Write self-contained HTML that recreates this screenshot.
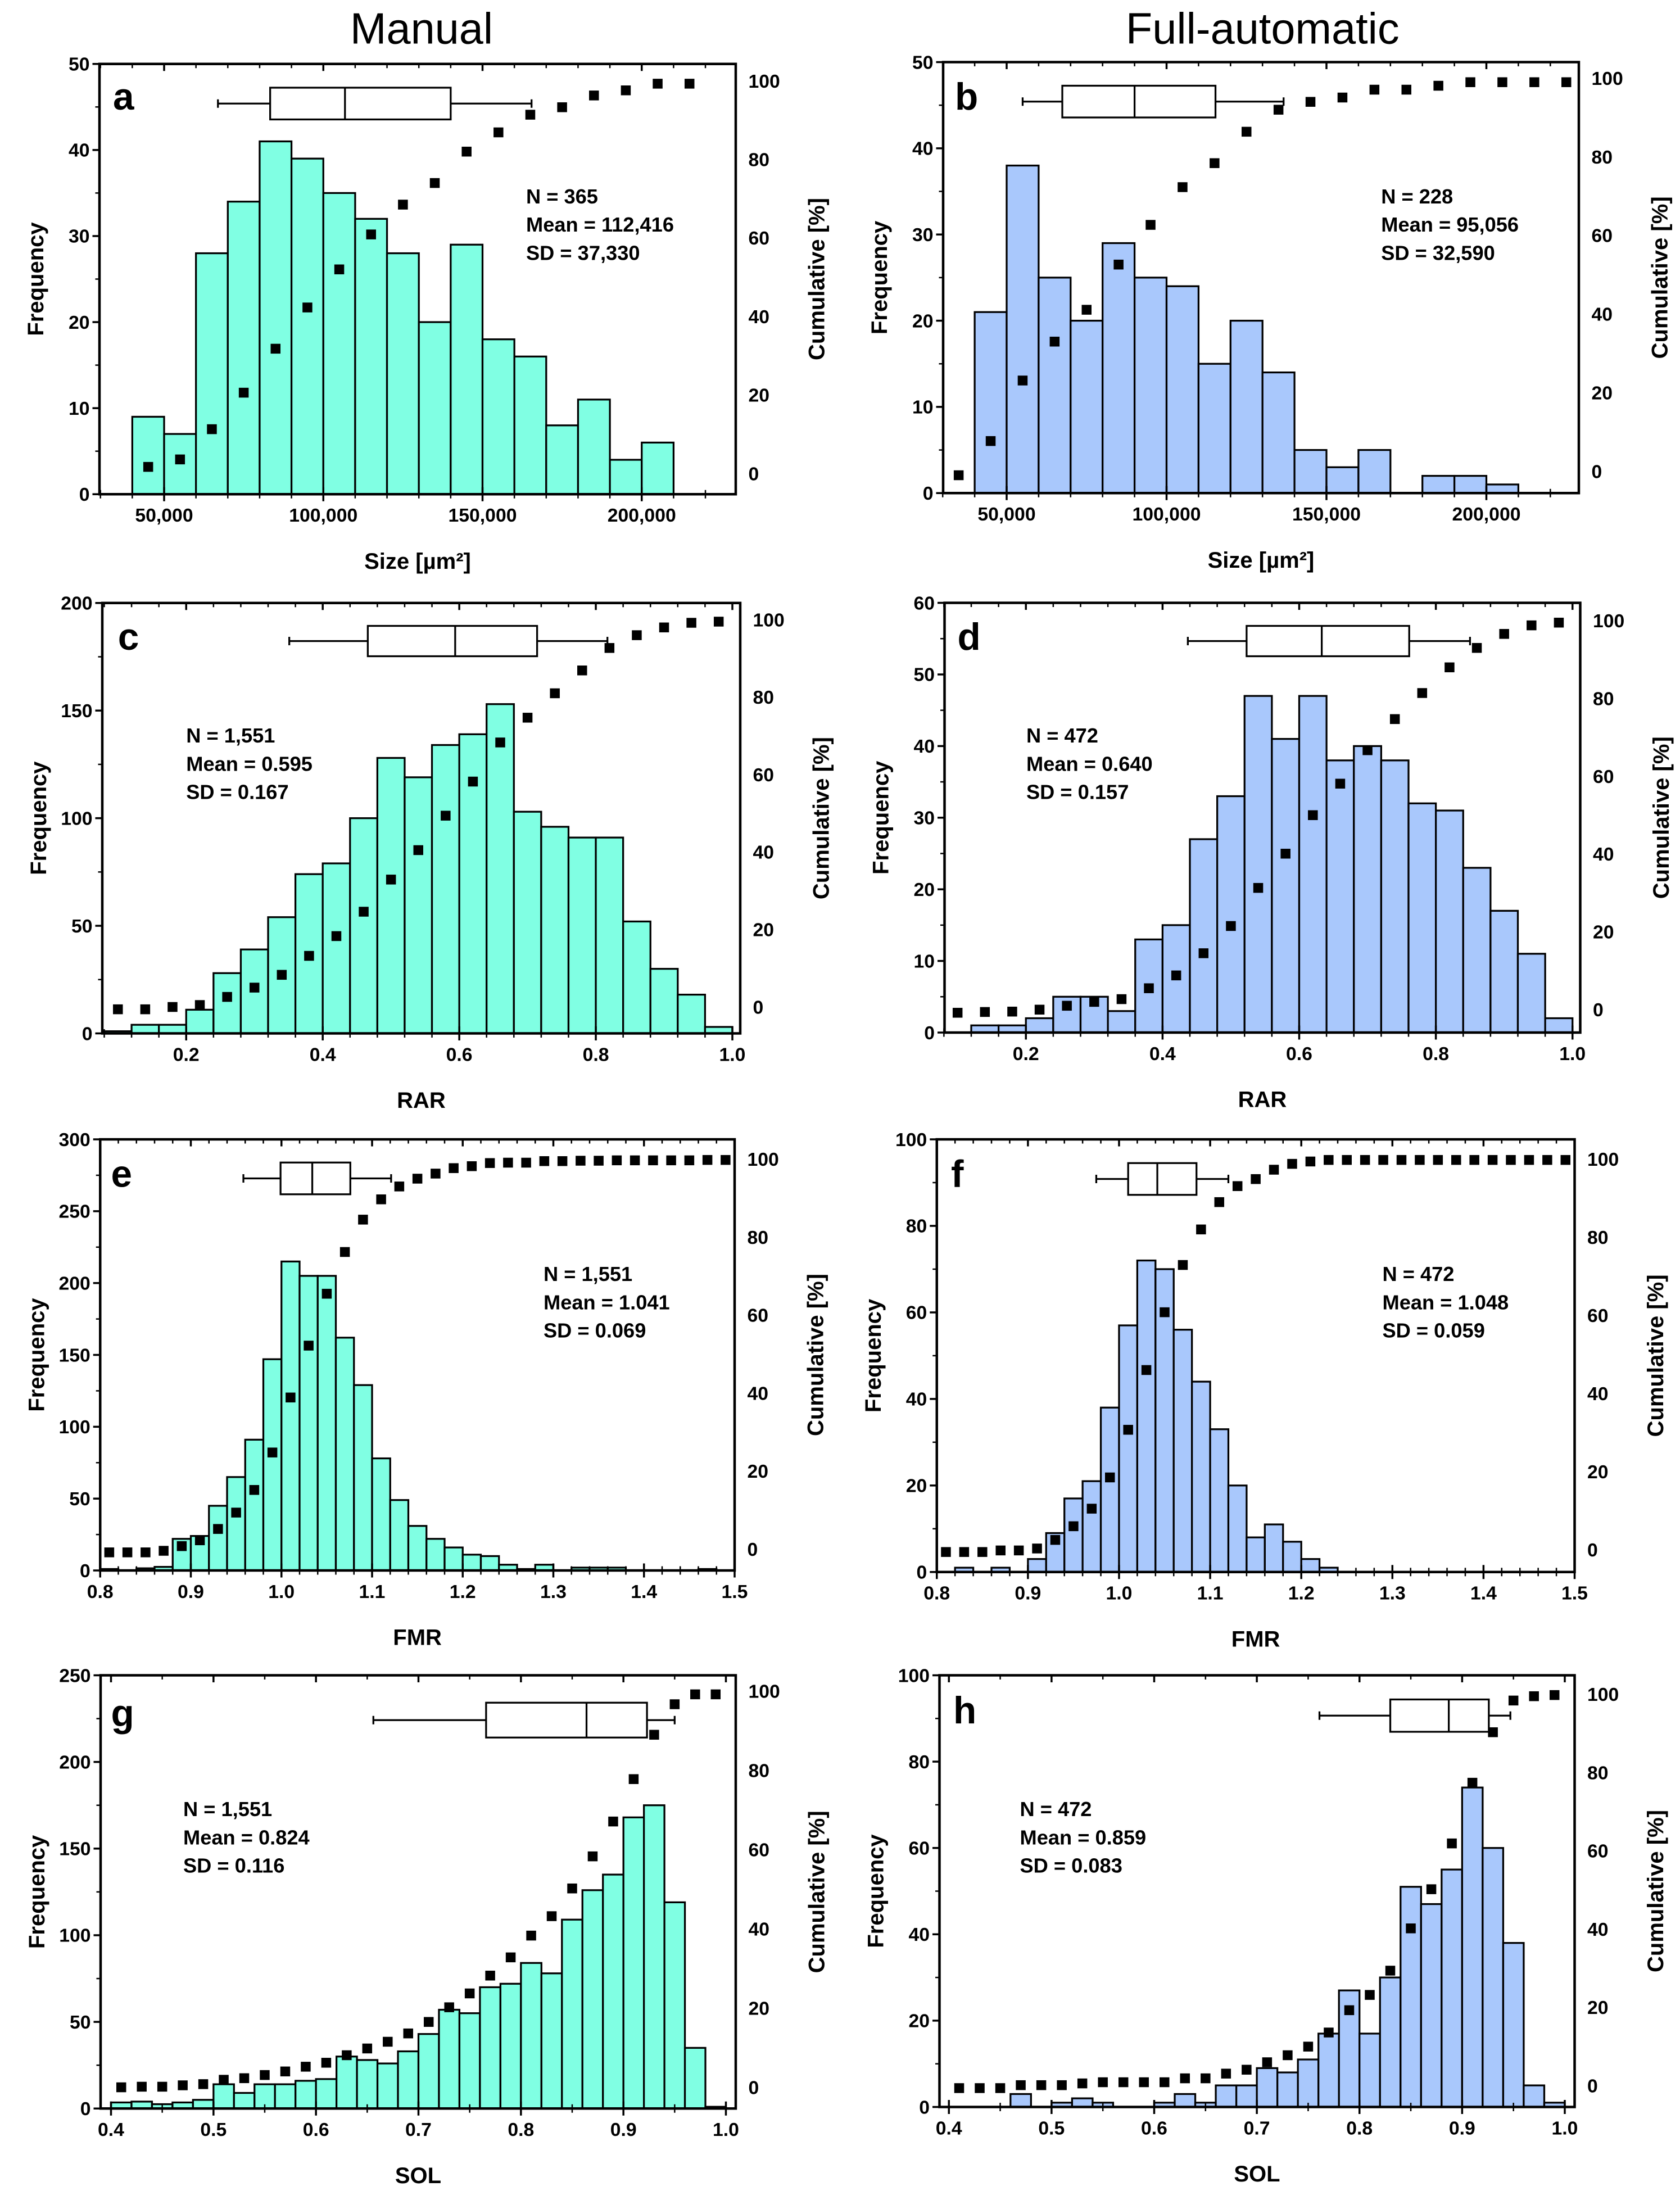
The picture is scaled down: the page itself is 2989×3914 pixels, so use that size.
<!DOCTYPE html>
<html>
<head>
<meta charset="utf-8">
<style>
html,body{margin:0;padding:0;background:#fff;}
svg{display:block;}
text{font-family:"Liberation Sans",Arial,sans-serif;}
</style>
</head>
<body>
<svg id="fig" xmlns="http://www.w3.org/2000/svg" width="2989" height="3914" viewBox="0 0 1195.6 1565.6">
<rect x="0" y="0" width="1195.6" height="1565.6" fill="#fff"/>
<text x="300" y="31" font-size="31" text-anchor="middle">Manual</text>
<text x="898.5" y="31" font-size="31" text-anchor="middle">Full-automatic</text>
</svg>
<script>
// ===== Panel a (Manual, Size) =====
const aBins = [40000,50000,60000,70000,80000,90000,100000,110000,120000,130000,140000,150000,160000,170000,180000,190000,200000];
const aBinWidth = 10000;
const aFreq = [9,7,28,34,41,39,35,32,28,20,29,18,16,8,11,4,6];
const aCumX = [45000,55000,65000,75000,85000,95000,105000,115000,125000,135000,145000,155000,165000,175000,185000,195000,205000,215000];
const aCum = [1.7,3.6,11.3,20.6,31.8,42.3,52,60.9,68.5,74,82,86.9,91.4,93.3,96.3,97.6,99.3,99.3];
const aBox = [66900,83300,106800,140000,165400];
const aXTicks = [50000,100000,150000,200000];
const aXTickLabels = ["50,000","100,000","150,000","200,000"];
const aYTicks = [0,10,20,30,40,50];
const aStats = ["N = 365","Mean = 112,416","SD = 37,330"];

// ===== Panel b (Full-automatic, Size) =====
const bBins = [40000,50000,60000,70000,80000,90000,100000,110000,120000,130000,140000,150000,160000,170000,180000,190000,200000];
const bBinWidth = 10000;
const bFreq = [21,38,25,20,29,25,24,15,20,14,5,3,5,0,2,2,1];
const bCumX = [35000,45000,55000,65000,75000,85000,95000,105000,115000,125000,135000,145000,155000,165000,175000,185000,195000,205000,215000,225000];
const bCum = [-1,7.7,23.1,33,41.1,52.6,62.7,72.3,78.4,86.4,92,94,95.1,97.1,97.1,98.1,99,99,99,99];
const bBox = [55000,67400,90000,115300,136600];
const bXTicks = [50000,100000,150000,200000];
const bXTickLabels = ["50,000","100,000","150,000","200,000"];
const bYTicks = [0,10,20,30,40,50];
const bStats = ["N = 228","Mean = 95,056","SD = 32,590"];

// ===== Panel c (Manual, RAR) =====
const cBins = [0.08,0.12,0.16,0.20,0.24,0.28,0.32,0.36,0.40,0.44,0.48,0.52,0.56,0.60,0.64,0.68,0.72,0.76,0.80,0.84,0.88,0.92,0.96];
const cBinWidth = 0.04;
const cFreq = [1,4,4,11,28,39,54,74,79,100,128,119,134,139,153,103,96,91,91,52,30,18,3];
const cCumX = [0.10,0.14,0.18,0.22,0.26,0.30,0.34,0.38,0.42,0.46,0.50,0.54,0.58,0.62,0.66,0.70,0.74,0.78,0.82,0.86,0.90,0.94,0.98];
const cCum = [-0.6,-0.6,0,0.5,2.6,5,8.3,13.2,18.3,24.6,32.9,40.5,49.4,58.2,68.3,74.7,81,86.9,92.7,96,98,99.2,99.5];
const cBox = [0.351,0.466,0.594,0.714,0.817];
const cXTicks = [0.2,0.4,0.6,0.8,1.0];
const cXTickLabels = ["0.2","0.4","0.6","0.8","1.0"];
const cYTicks = [0,50,100,150,200];
const cStats = ["N = 1,551","Mean = 0.595","SD = 0.167"];

// ===== Panel d (Full-automatic, RAR) =====
const dBins = [0.12,0.16,0.20,0.24,0.28,0.32,0.36,0.40,0.44,0.48,0.52,0.56,0.60,0.64,0.68,0.72,0.76,0.80,0.84,0.88,0.92,0.96];
const dBinWidth = 0.04;
const dFreq = [1,1,2,5,5,3,13,15,27,33,47,41,47,38,40,38,32,31,23,17,11,2];
const dCumX = [0.10,0.14,0.18,0.22,0.26,0.30,0.34,0.38,0.42,0.46,0.50,0.54,0.58,0.62,0.66,0.70,0.74,0.78,0.82,0.86,0.90,0.94,0.98];
const dCum = [-0.8,-0.6,-0.5,0,1,2,2.7,5.5,8.8,14.5,21.5,31.3,40.1,50,58.1,66.7,74.7,81.4,88,93,96.6,98.8,99.5];
const dBox = [0.437,0.523,0.633,0.761,0.850];
const dXTicks = [0.2,0.4,0.6,0.8,1.0];
const dXTickLabels = ["0.2","0.4","0.6","0.8","1.0"];
const dYTicks = [0,10,20,30,40,50,60];
const dStats = ["N = 472","Mean = 0.640","SD = 0.157"];

// ===== Panel e (Manual, FMR) =====
const eBins = [0.80,0.82,0.84,0.86,0.88,0.90,0.92,0.94,0.96,0.98,1.00,1.02,1.04,1.06,1.08,1.10,1.12,1.14,1.16,1.18,1.20,1.22,1.24,1.26,1.28,1.30,1.32,1.34,1.36,1.38,1.40,1.42,1.44,1.46,1.48];
const eBinWidth = 0.02;
const eFreq = [1,0,1.5,2.5,22,24,45,65,91,147,215,205,205,162,129,78,49,31,22,16,11,10,4,1,4,0,2,2,2,0,0,0,0,1,0];
const eCumX = [0.81,0.83,0.85,0.87,0.89,0.91,0.93,0.95,0.97,0.99,1.01,1.03,1.05,1.07,1.09,1.11,1.13,1.15,1.17,1.19,1.21,1.23,1.25,1.27,1.29,1.31,1.33,1.35,1.37,1.39,1.41,1.43,1.45,1.47,1.49];
const eCum = [-0.8,-0.8,-0.8,-0.4,0.8,2.3,5.2,9.4,15.2,24.8,38.9,52.2,65.5,76.2,84.5,89.7,93,95,96.3,97.7,98.2,99,99.1,99.1,99.5,99.5,99.6,99.6,99.7,99.7,99.7,99.7,99.7,99.8,99.8];
const eBox = [0.958,0.999,1.034,1.076,1.121];
const eXTicks = [0.8,0.9,1.0,1.1,1.2,1.3,1.4,1.5];
const eXTickLabels = ["0.8","0.9","1.0","1.1","1.2","1.3","1.4","1.5"];
const eYTicks = [0,50,100,150,200,250,300];
const eStats = ["N = 1,551","Mean = 1.041","SD = 0.069"];

// ===== Panel f (Full-automatic, FMR) =====
const fBins = [0.80,0.82,0.84,0.86,0.88,0.90,0.92,0.94,0.96,0.98,1.00,1.02,1.04,1.06,1.08,1.10,1.12,1.14,1.16,1.18,1.20,1.22,1.24,1.26,1.28,1.30,1.32,1.34,1.36,1.38,1.40,1.42,1.44,1.46,1.48];
const fBinWidth = 0.02;
const fFreq = [0,1,0,1,0,3,9,17,21,38,57,72,70,56,44,33,20,8,11,7,3,1,0,0,0,0,0,0,0,0,0,0,0,0,0];
const fCumX = [0.81,0.83,0.85,0.87,0.89,0.91,0.93,0.95,0.97,0.99,1.01,1.03,1.05,1.07,1.09,1.11,1.13,1.15,1.17,1.19,1.21,1.23,1.25,1.27,1.29,1.31,1.33,1.35,1.37,1.39,1.41,1.43,1.45,1.47,1.49];
const fCum = [-0.6,-0.6,-0.6,-0.2,-0.2,0.3,2.5,6,10.5,18.5,30.7,46,60.8,72.9,82,89,93.1,94.9,97.3,98.8,99.4,99.8,99.8,99.8,99.8,99.8,99.8,99.8,99.8,99.8,99.8,99.8,99.8,99.8,99.8];
const fBox = [0.975,1.010,1.042,1.085,1.120];
const fXTicks = [0.8,0.9,1.0,1.1,1.2,1.3,1.4,1.5];
const fXTickLabels = ["0.8","0.9","1.0","1.1","1.2","1.3","1.4","1.5"];
const fYTicks = [0,20,40,60,80,100];
const fStats = ["N = 472","Mean = 1.048","SD = 0.059"];

// ===== Panel g (Manual, SOL) =====
const gBins = [0.40,0.42,0.44,0.46,0.48,0.50,0.52,0.54,0.56,0.58,0.60,0.62,0.64,0.66,0.68,0.70,0.72,0.74,0.76,0.78,0.80,0.82,0.84,0.86,0.88,0.90,0.92,0.94,0.96,0.98];
const gBinWidth = 0.02;
const gFreq = [3.5,4,2.5,3.5,5,14,9,14,14,16,17,30,28,26,33,43,57,55,70,72,84,78,109,126,135,168,175,119,35,1];
const gCumX = [0.41,0.43,0.45,0.47,0.49,0.51,0.53,0.55,0.57,0.59,0.61,0.63,0.65,0.67,0.69,0.71,0.73,0.75,0.77,0.79,0.81,0.83,0.85,0.87,0.89,0.91,0.93,0.95,0.97,0.99];
const gCum = [0,0.15,0.15,0.5,0.8,1.9,2.3,3.1,4,5.2,6.2,8.1,9.8,11.5,13.6,16.5,20.2,23.7,28.2,32.8,38.3,43.2,50.2,58.3,67.1,77.8,89,96.7,99.2,99.2];
const gBox = [0.656,0.766,0.864,0.923,0.950];
const gXTicks = [0.4,0.5,0.6,0.7,0.8,0.9,1.0];
const gXTickLabels = ["0.4","0.5","0.6","0.7","0.8","0.9","1.0"];
const gYTicks = [0,50,100,150,200,250];
const gStats = ["N = 1,551","Mean = 0.824","SD = 0.116"];

// ===== Panel h (Full-automatic, SOL) =====
const hBins = [0.40,0.42,0.44,0.46,0.48,0.50,0.52,0.54,0.56,0.58,0.60,0.62,0.64,0.66,0.68,0.70,0.72,0.74,0.76,0.78,0.80,0.82,0.84,0.86,0.88,0.90,0.92,0.94,0.96,0.98];
const hBinWidth = 0.02;
const hFreq = [0,0,0,3,0,1,2,1,0,0,1,3,1,5,5,9,8,11,17,27,17,30,51,47,55,74,60,38,5,1];
const hCumX = [0.41,0.43,0.45,0.47,0.49,0.51,0.53,0.55,0.57,0.59,0.61,0.63,0.65,0.67,0.69,0.71,0.73,0.75,0.77,0.79,0.81,0.83,0.85,0.87,0.89,0.91,0.93,0.95,0.97,0.99];
const hCum = [-0.6,-0.6,-0.6,0.15,0.15,0.15,0.6,0.9,0.9,0.9,0.9,1.9,1.9,3.1,4.1,6,7.8,10,13.6,19.3,23.2,29.4,40.2,50.2,61.9,77.4,90.3,98.4,99.5,99.8];
const hBox = [0.761,0.830,0.887,0.926,0.947];
const hXTicks = [0.4,0.5,0.6,0.7,0.8,0.9,1.0];
const hXTickLabels = ["0.4","0.5","0.6","0.7","0.8","0.9","1.0"];
const hYTicks = [0,20,40,60,80,100];
const hStats = ["N = 472","Mean = 0.859","SD = 0.083"];

const cumTicks = [0,20,40,60,80,100];

const NS = "http://www.w3.org/2000/svg";
const svg = document.getElementById("fig");
const TEAL = "#80ffe3", BLUE = "#a9c8fc";

function mk(tag, attrs, parent) {
  const el = document.createElementNS(NS, tag);
  for (const k in attrs) el.setAttribute(k, attrs[k]);
  (parent || svg).appendChild(el);
  return el;
}

function drawPanel(p) {
  const g = mk("g", {});
  
  
  const sx = v => p.px0 + (v - p.v0) * (p.px1 - p.px0) / (p.v1 - p.v0);
  const syL = v => p.B - v * (p.B - p.T) / p.yMax;
  const syR = v => p.r0 + v * (p.r100 - p.r0) / 100;

  const frame = mk("rect", {x:p.L, y:p.T, width:p.R-p.L, height:p.B-p.T, fill:"#fff", stroke:"none"}, g);
  
  

  // bars
  for (let i = 0; i < p.bins.length; i++) {
    if (p.freq[i] <= 0) continue;
    const x0 = sx(p.bins[i]), x1 = sx(p.bins[i] + p.bw);
    const y = syL(p.freq[i]);
    const bar = mk("rect", {x:x0, y:y, width:x1-x0, height:p.B-y, fill:p.color, stroke:"#000", "stroke-width":1.3}, g);
    
    
  }
  // cumulative markers
  for (let i = 0; i < p.cumX.length; i++) {
    const cx = sx(p.cumX[i]), cy = syR(p.cum[i]);
    const m = mk("rect", {x:cx-3.5, y:cy-3.5, width:7, height:7, fill:"#000"}, g);
    
    
  }
  // box plot
  const bg = mk("g", {}, g);
  
  
  const by = p.boxY, bh = p.boxH;
  const bx = p.box.map(sx);
  mk("line", {x1:bx[0], y1:by, x2:bx[1], y2:by, stroke:"#000", "stroke-width":1.3}, bg);
  mk("line", {x1:bx[3], y1:by, x2:bx[4], y2:by, stroke:"#000", "stroke-width":1.3}, bg);
  mk("line", {x1:bx[0], y1:by-3, x2:bx[0], y2:by+3, stroke:"#000", "stroke-width":1.3}, bg);
  mk("line", {x1:bx[4], y1:by-3, x2:bx[4], y2:by+3, stroke:"#000", "stroke-width":1.3}, bg);
  mk("rect", {x:bx[1], y:by-bh, width:bx[3]-bx[1], height:2*bh, fill:"#fff", stroke:"#000", "stroke-width":1.3}, bg);
  mk("line", {x1:bx[2], y1:by-bh, x2:bx[2], y2:by+bh, stroke:"#000", "stroke-width":1.3}, bg);

  // frame outline
  mk("rect", {x:p.L, y:p.T, width:p.R-p.L, height:p.B-p.T, fill:"none", stroke:"#000", "stroke-width":1.8}, g);

  // x minor ticks
  for (let v = p.xMinorStart; v <= p.v1Tick + 1e-9; v += p.xMinor) {
    const x = sx(v);
    if (x < p.L - 0.5 || x > p.R + 0.5) continue;
    mk("line", {x1:x, y1:p.B-3, x2:x, y2:p.B+3, stroke:"#000", "stroke-width":1}, g);
    mk("line", {x1:x, y1:p.T, x2:x, y2:p.T+3, stroke:"#000", "stroke-width":1}, g);
  }
  // x major ticks + labels
  for (let i = 0; i < p.xTicks.length; i++) {
    const x = sx(p.xTicks[i]);
    mk("line", {x1:x, y1:p.B-5, x2:x, y2:p.B+5, stroke:"#000", "stroke-width":1.4}, g);
    mk("line", {x1:x, y1:p.T, x2:x, y2:p.T+5, stroke:"#000", "stroke-width":1.4}, g);
    const t = mk("text", {x:x, y:p.B+19.5, "font-size":13.5, "font-weight":"bold", "text-anchor":"middle"}, g);
    t.textContent = p.xLabels[i];
    
    
  }
  // left ticks
  const step = p.yTicks[1] - p.yTicks[0];
  for (let i = 0; i < p.yTicks.length; i++) {
    const y = syL(p.yTicks[i]);
    mk("line", {x1:p.L-5, y1:y, x2:p.L, y2:y, stroke:"#000", "stroke-width":1.4}, g);
    if (i < p.yTicks.length - 1) {
      const ym = syL(p.yTicks[i] + step/2);
      mk("line", {x1:p.L-3, y1:ym, x2:p.L, y2:ym, stroke:"#000", "stroke-width":1}, g);
    }
    const t = mk("text", {x:p.L-7, y:y+4.7, "font-size":13.5, "font-weight":"bold", "text-anchor":"end"}, g);
    t.textContent = String(p.yTicks[i]);
    
    
  }
  // right ticks labels
  for (let i = 0; i < cumTicks.length; i++) {
    const y = syR(cumTicks[i]);
    const t = mk("text", {x:p.R+9, y:y+4.7, "font-size":13.5, "font-weight":"bold", "text-anchor":"start"}, g);
    t.textContent = String(cumTicks[i]);
    
    
  }
  // axis titles
  const ym = (p.T + p.B) / 2;
  const yt = mk("text", {x:0, y:0, "font-size":16, "font-weight":"bold", "text-anchor":"middle", transform:"translate(" + (p.L-40) + "," + ym + ") rotate(-90)"}, g);
  yt.textContent = "Frequency";
  
  
  const rt = mk("text", {x:0, y:0, "font-size":16, "font-weight":"bold", "text-anchor":"middle", transform:"translate(" + (p.R+63) + "," + ym + ") rotate(-90)"}, g);
  rt.textContent = "Cumulative [%]";
  
  
  const xt = mk("text", {x:(p.L+p.R)/2, y:p.B+53, "font-size":16, "font-weight":"bold", "text-anchor":"middle"}, g);
  xt.textContent = p.xTitle;
  
  
  // panel letter
  const lt = mk("text", {x:p.letterX, y:p.letterY, "font-size":27, "font-weight":"bold"}, g);
  lt.textContent = p.id;
  
  
  // stats
  for (let i = 0; i < p.stats.length; i++) {
    const st = mk("text", {x:p.statX, y:p.statY + i*20.1, "font-size":14.5, "font-weight":"bold"}, g);
    st.textContent = p.stats[i];
    
    
  }
}

const panels = [
  {id:"a", L:70.8, R:523.6, T:45.5, B:351.7, v0:50000, v1:100000, px0:116.8, px1:230.1, yMax:50, r0:337, r100:57.6,
   bins:aBins, bw:aBinWidth, freq:aFreq, cumX:aCumX, cum:aCum, box:aBox, boxY:73.7, boxH:11.3,
   xTicks:aXTicks, xLabels:aXTickLabels, yTicks:aYTicks, xMinorStart:30000, xMinor:10000, v1Tick:230000,
   color:TEAL, xTitle:"Size [\u00b5m\u00b2]", letterX:80.4, letterY:78, stats:aStats, statX:374.4, statY:144.7},
  {id:"b", L:671.2, R:1123.6, T:44.2, B:350.9, v0:50000, v1:100000, px0:716.4, px1:830.2, yMax:50, r0:335.4, r100:55.7,
   bins:bBins, bw:bBinWidth, freq:bFreq, cumX:bCumX, cum:bCum, box:bBox, boxY:72.3, boxH:11.3,
   xTicks:bXTicks, xLabels:bXTickLabels, yTicks:bYTicks, xMinorStart:30000, xMinor:10000, v1Tick:230000,
   color:BLUE, xTitle:"Size [\u00b5m\u00b2]", letterX:679.6, letterY:78, stats:bStats, statX:982.9, statY:144.7},
  {id:"c", L:72.8, R:526.8, T:429.1, B:735.4, v0:0.2, v1:1.0, px0:132.5, px1:521.2, yMax:200, r0:716.6, r100:441,
   bins:cBins, bw:cBinWidth, freq:cFreq, cumX:cCumX, cum:cCum, box:cBox, boxY:456.2, boxH:10.8,
   xTicks:cXTicks, xLabels:cXTickLabels, yTicks:cYTicks, xMinorStart:0.08, xMinor:0.04, v1Tick:1.0,
   color:TEAL, xTitle:"RAR", letterX:83.9, letterY:462.3, stats:cStats, statX:132.5, statY:528.4},
  {id:"d", L:672.2, R:1124.6, T:429, B:734.8, v0:0.2, v1:1.0, px0:730.1, px1:1119.1, yMax:60, r0:718.5, r100:441.7,
   bins:dBins, bw:dBinWidth, freq:dFreq, cumX:dCumX, cum:dCum, box:dBox, boxY:456.2, boxH:10.8,
   xTicks:dXTicks, xLabels:dXTickLabels, yTicks:dYTicks, xMinorStart:0.08, xMinor:0.04, v1Tick:1.0,
   color:BLUE, xTitle:"RAR", letterX:681.4, letterY:462.3, stats:dStats, statX:730.4, statY:528.4},
  {id:"e", L:71.3, R:522.8, T:810.8, B:1117.6, v0:0.8, v1:1.5, px0:71.3, px1:522.8, yMax:300, r0:1102.5, r100:824.9,
   bins:eBins, bw:eBinWidth, freq:eFreq, cumX:eCumX, cum:eCum, box:eBox, boxY:838.6, boxH:11.3,
   xTicks:eXTicks, xLabels:eXTickLabels, yTicks:eYTicks, xMinorStart:0.8, xMinor:0.02, v1Tick:1.5,
   color:TEAL, xTitle:"FMR", letterX:79, letterY:844.5, stats:eStats, statX:386.8, statY:911.6},
  {id:"f", L:666.7, R:1120.6, T:810.8, B:1118.7, v0:0.8, v1:1.5, px0:666.7, px1:1120.6, yMax:100, r0:1102.8, r100:824.9,
   bins:fBins, bw:fBinWidth, freq:fFreq, cumX:fCumX, cum:fCum, box:fBox, boxY:839, boxH:11.3,
   xTicks:fXTicks, xLabels:fXTickLabels, yTicks:fYTicks, xMinorStart:0.8, xMinor:0.02, v1Tick:1.5,
   color:BLUE, xTitle:"FMR", letterX:676.8, letterY:844.5, stats:fStats, statX:983.8, statY:911.6},
  {id:"g", L:71.6, R:523.6, T:1192.2, B:1500.5, v0:0.4, v1:1.0, px0:79, px1:516.6, yMax:250, r0:1485.4, r100:1203.5,
   bins:gBins, bw:gBinWidth, freq:gFreq, cumX:gCumX, cum:gCum, box:gBox, boxY:1224.1, boxH:12.4,
   xTicks:gXTicks, xLabels:gXTickLabels, yTicks:gYTicks, xMinorStart:0.4, xMinor:0.05, v1Tick:1.0,
   color:TEAL, xTitle:"SOL", letterX:79, letterY:1228.4, stats:gStats, statX:130.4, statY:1292.4},
  {id:"h", L:668.6, R:1120.6, T:1192.2, B:1499.4, v0:0.4, v1:1.0, px0:675.3, px1:1113.6, yMax:100, r0:1484.3, r100:1205.7,
   bins:hBins, bw:hBinWidth, freq:hFreq, cumX:hCumX, cum:hCum, box:hBox, boxY:1220.9, boxH:11.5,
   xTicks:hXTicks, xLabels:hXTickLabels, yTicks:hYTicks, xMinorStart:0.4, xMinor:0.05, v1Tick:1.0,
   color:BLUE, xTitle:"SOL", letterX:678.4, letterY:1226.3, stats:hStats, statX:725.8, statY:1292.4}
];
panels.forEach(drawPanel);
</script>
</body>
</html>
